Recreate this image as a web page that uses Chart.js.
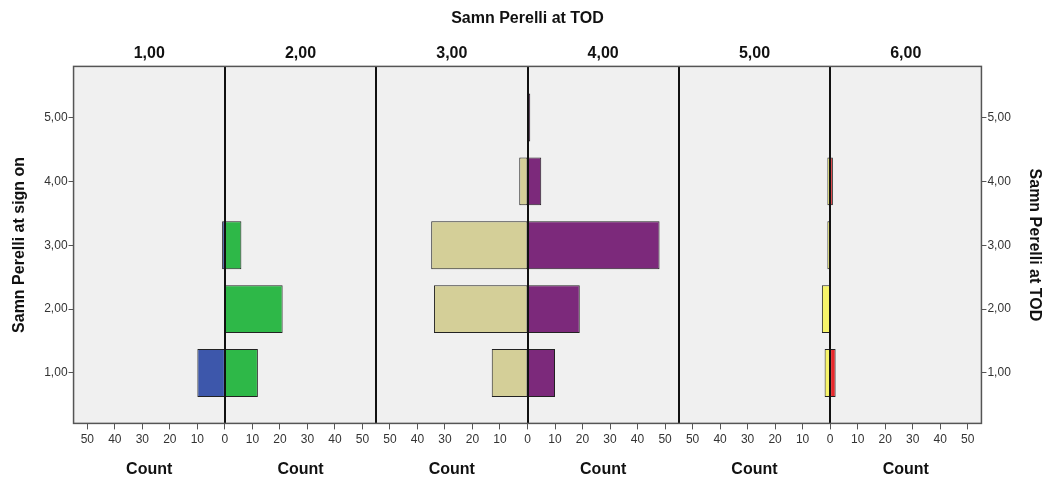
<!DOCTYPE html>
<html>
<head>
<meta charset="utf-8">
<script src="https://cdn.jsdelivr.net/npm/chart.js@4.4.1/dist/chart.umd.min.js"></script>
<style>
  html, body { margin: 0; padding: 0; background: #fff; }
  #wrap { width: 1050px; height: 477px; }
</style>
</head>
<body>
<div id="wrap"><canvas id="grafica"></canvas></div>
<script>
// valores de "Samn Perelli at sign on" (eje vertical)
const signOn = [1, 2, 3, 4, 5];
// columnas de "Samn Perelli at TOD"
const todLabels = ['1,00', '2,00', '3,00', '4,00', '5,00', '6,00'];
// conteos por cada valor TOD, en el orden de signOn
const tod1 = [10, 0, 1, 0, 0];
const tod2 = [12, 21, 6, 0, 0];
const tod3 = [13, 34, 35, 3, 0];
const tod4 = [10, 19, 48, 5, 1];
const tod5 = [2, 3, 1, 1, 0];
const tod6 = [2, 0, 0, 1, 0];
// marcas del eje Count (cada mitad va de 0 a 55)
const countTicks = [0, 10, 20, 30, 40, 50];
const halfMax = 55;

const todCounts = [tod1, tod2, tod3, tod4, tod5, tod6];
const colores = ['#3d57ab', '#2eb848', '#d4cf98', '#7c297b', '#f7f46a', '#e8282b'];

function centro(p) {
  return halfMax + 2 * halfMax * p;
}

//centros de cada mitad, para los textos de arriba y "Count"
let mitades = [];
for (let k = 0; k < 6; k++) mitades.push(halfMax / 2 + halfMax * k);

let valoresTicks = [];
for (let p = 0; p < 3; p++) {
  let c = centro(p);
  for (let t of countTicks.slice().reverse()) if (t > 0) valoresTicks.push(c - t);
  for (let t of countTicks) valoresTicks.push(c + t);
}

let datasets = todCounts.map((serie, k) => {
  let p = Math.floor(k / 2);
  let izquierda = k % 2 === 0;
  let c = centro(p);
  let data = [];
  serie.forEach((v, i) => {
    if (v > 0) data.push({ y: signOn[i], x: izquierda ? [c - v, c] : [c, c + v] });
  });
  return {
    label: todLabels[k],
    data: data,
    backgroundColor: colores[k],
    borderColor: '#222',
    borderWidth: 1,
    borderSkipped: false,
    grouped: false,
    barPercentage: 0.75,
    categoryPercentage: 1
  };
});

const lineasPanel = {
  id: 'lineasPanel',
  beforeDraw(chart) {
    const { ctx, chartArea: a } = chart;
    ctx.save();
    ctx.fillStyle = '#f0f0f0';
    ctx.fillRect(a.left, a.top, a.right - a.left, a.bottom - a.top);
    ctx.restore();
  },
  afterDatasetsDraw(chart) {
    const { ctx, chartArea: a, scales } = chart;
    const x = scales.x;
    ctx.save();
    ctx.strokeStyle = '#111';
    ctx.lineWidth = 2;
    for (let p = 0; p < 3; p++) {
      let xs = [x.getPixelForValue(centro(p))];
      if (p > 0) xs.push(x.getPixelForValue(centro(p) - halfMax));
      for (let px of xs) {
        ctx.beginPath();
        ctx.moveTo(Math.round(px), a.top);
        ctx.lineTo(Math.round(px), a.bottom);
        ctx.stroke();
      }
    }
    ctx.strokeStyle = '#555';
    ctx.lineWidth = 1.5;
    ctx.strokeRect(a.left, a.top, a.right - a.left, a.bottom - a.top);
    ctx.restore();
  }
};

const fuente = "'Liberation Sans', Arial, sans-serif";
const tickFont = { family: fuente, size: 12 };
const boldFont = { family: fuente, size: 16, weight: 'bold' };

new Chart(document.getElementById('grafica').getContext('2d'), {
  type: 'bar',
  data: { datasets: datasets },
  plugins: [lineasPanel],
  options: {
    indexAxis: 'y',
    responsive: true,
    maintainAspectRatio: false,
    animation: false,
    layout: { padding: { left: 10, right: 4, top: 9, bottom: -4 } },
    plugins: {
      legend: { display: false },
      tooltip: { enabled: false }
    },
    scales: {
      x: {
        type: 'linear',
        position: 'bottom',
        weight: 0,
        min: 0,
        max: 6 * halfMax,
        afterBuildTicks: (axis) => {
          axis.ticks = valoresTicks.map(v => ({ value: v }));
        },
        ticks: {
          autoSkip: false,
          maxRotation: 0,
          color: '#333',
          font: tickFont,
          padding: 3,
          callback: (v) => {
            let p = Math.round((v - halfMax) / (2 * halfMax));
            return Math.abs(v - centro(p));
          }
        },
        grid: { drawOnChartArea: false, tickLength: 6, color: '#555' },
        border: { display: false }
      },
      xCount: {
        type: 'linear',
        position: 'bottom',
        weight: 1,
        min: 0,
        max: 6 * halfMax,
        afterBuildTicks: (axis) => {
          axis.ticks = mitades.map(v => ({ value: v }));
        },
        ticks: {
          autoSkip: false,
          maxRotation: 0,
          color: '#111',
          font: boldFont,
          padding: 2,
          callback: () => 'Count'
        },
        grid: { display: false },
        border: { display: false }
      },
      xTop: {
        type: 'linear',
        position: 'top',
        min: 0,
        max: 6 * halfMax,
        afterBuildTicks: (axis) => {
          axis.ticks = mitades.map(v => ({ value: v }));
        },
        ticks: {
          autoSkip: false,
          maxRotation: 0,
          color: '#111',
          font: boldFont,
          padding: -5,
          callback: (v, i) => todLabels[i]
        },
        title: {
          display: true,
          text: 'Samn Perelli at TOD',
          color: '#111',
          font: boldFont,
          padding: { top: 0, bottom: 21 }
        },
        grid: { display: false },
        border: { display: false }
      },
      y: {
        type: 'linear',
        position: 'left',
        offset: false,
        min: 0.21,
        max: 5.8,
        afterBuildTicks: (axis) => {
          axis.ticks = signOn.map(v => ({ value: v }));
        },
        ticks: {
          color: '#333',
          font: tickFont,
          padding: 1,
          callback: (v) => v.toFixed(2).replace('.', ',')
        },
        title: {
          display: true,
          text: 'Samn Perelli at sign on',
          color: '#111',
          font: boldFont,
          padding: { top: 0, bottom: 14 }
        },
        grid: { drawOnChartArea: false, offset: false, tickLength: 5, color: '#555' },
        border: { display: false }
      },
      yRight: {
        type: 'linear',
        position: 'right',
        offset: false,
        min: 0.21,
        max: 5.8,
        afterBuildTicks: (axis) => {
          axis.ticks = signOn.map(v => ({ value: v }));
        },
        ticks: {
          color: '#333',
          font: tickFont,
          padding: 1,
          callback: (v) => v.toFixed(2).replace('.', ',')
        },
        title: {
          display: true,
          text: 'Samn Perelli at TOD',
          color: '#111',
          font: boldFont,
          padding: { top: 2, bottom: 13 }
        },
        grid: { drawOnChartArea: false, offset: false, tickLength: 5, color: '#555' },
        border: { display: false }
      }
    }
  }
});
</script>
</body>
</html>
